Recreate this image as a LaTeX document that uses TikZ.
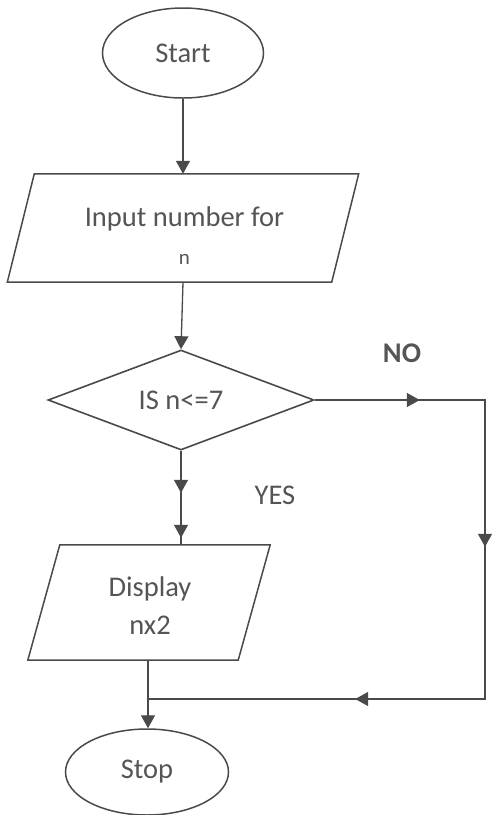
\documentclass[tikz,border=0pt]{standalone}
\usepackage{fontspec}
\setmainfont{Carlito}
\usetikzlibrary{shapes.geometric,arrows.meta,decorations.markings,calc}
\definecolor{ln}{HTML}{4A4A4A}
\definecolor{tx}{HTML}{555555}
\begin{document}
\begin{tikzpicture}[x=1pt,y=1pt,
  >={Triangle[length=13pt,width=14pt]},
  every node/.style={font=\fontsize{28.5}{38}\selectfont, text=tx},
  term/.style={ellipse, draw=ln, line width=1.5pt, inner sep=0pt},
  decis/.style={diamond, draw=ln, line width=1.6pt, shape aspect=2.66,
    minimum width=266pt, minimum height=100pt, inner sep=0pt},
  iobox/.style={rectangle, inner sep=0pt},
  ioline/.style={draw=ln, line width=1.5pt, line join=miter},
  conn/.style={draw=ln, line width=1.3pt},
  txtnode/.style={align=center, inner sep=0pt}
]
\useasboundingbox (0,0) rectangle (491,-815);
\fill[white] (0,0) rectangle (491,-815);

% nodes
\node[term, minimum width=161pt, minimum height=90pt] (start) at (183,-53) {Start};
\node[iobox, minimum width=324pt, minimum height=108pt] (inp) at (183,-228) {};
\draw[ioline] ($(inp.north west)+(13.5,0)$) -- ($(inp.north east)+(13.5,0)$)
  -- ($(inp.south east)+(-13.5,0)$) -- ($(inp.south west)+(-13.5,0)$) -- cycle;
\node[txtnode] (inptxt) at (184.5,-236) {Input number for\\{\fontsize{21}{38}\selectfont n}};

\node[decis] (dec) at (181,-400) {IS n<=7};

\node[iobox, minimum width=210pt, minimum height=115pt] (disp) at (149,-602.5) {};
\draw[ioline] ($(disp.north west)+(16,0)$) -- ($(disp.north east)+(16,0)$)
  -- ($(disp.south east)+(-16,0)$) -- ($(disp.south west)+(-16,0)$) -- cycle;
\node[txtnode] (disptxt) at (150,-606) {Display\\nx2};

\node[term, minimum width=163pt, minimum height=86pt] (stop) at (147,-772) {Stop};

\node (no) at (402,-353) {\bfseries NO};
\node (yes) at (275,-495) {YES};

\coordinate (c1) at (485,-400);
\coordinate (c2) at (485,-699);
\coordinate (join) at (148,-699);

% connectors
\draw[conn,->] (start.south) -- (inp.north);
\draw[conn,->] (inp.south) -- (dec.north);
\draw[conn, postaction={decorate}, decoration={markings,
    mark=at position 42pt with {\arrow{>}},
    mark=at position 87pt with {\arrow{>}}}]
  (dec.south) -- (dec.south |- disp.north);
\draw[conn,->] (disp.south -| join) -- (join |- stop.north);
\draw[conn, postaction={decorate}, decoration={markings,
    mark=at position 105pt with {\arrow{>}},
    mark=at position 317pt with {\arrow{>}},
    mark=at position 599pt with {\arrow{>}}}]
  (dec.east) -- (c1) -- (c2) -- (join);
\end{tikzpicture}
\end{document}
